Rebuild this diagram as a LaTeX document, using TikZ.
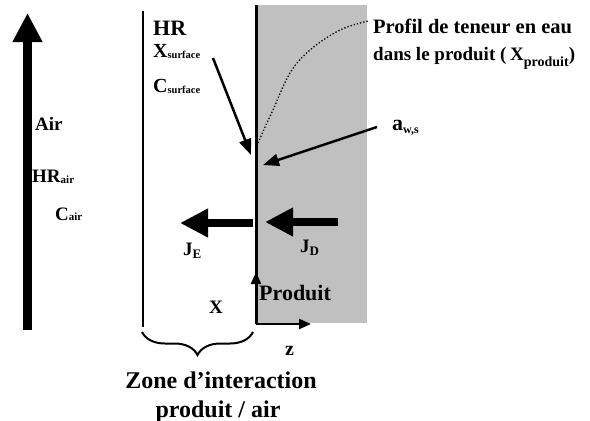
\documentclass[tikz,border=0pt]{standalone}
\usepackage{fontspec}
\setmainfont{Liberation Serif}
\usetikzlibrary{arrows.meta,decorations.pathreplacing}
\newcommand{\fsz}[1]{\fontsize{#1}{#1}\selectfont}
\newcommand{\lsub}[3]{\raisebox{-#2pt}{\fsz{#1}#3}}
\definecolor{prodgray}{RGB}{192,192,192}
\begin{document}
\begin{tikzpicture}[x=1pt,y=-1pt,
  lbl/.style={inner sep=0pt,anchor=base west,font=\bfseries},
  clbl/.style={inner sep=0pt,anchor=base,font=\bfseries},
  bigarrow/.style={line width=8.5pt,-{Triangle[width=28pt,length=29pt]}},
  fluxarrow/.style={line width=8pt,-{Triangle[width=27pt,length=28pt]}},
  thinarrow/.style={line width=2.5pt,-{Triangle[width=12pt,length=16pt]}},
  axisarrow/.style={line width=2.5pt,-{Triangle[width=10pt,length=12pt]}}]
\useasboundingbox (0,0) rectangle (590,421);
% product block
\fill[prodgray] (257,5) rectangle (367,323);
% big air arrow
\coordinate (airbot) at (27.5,330);
\coordinate (airtop) at (27.5,13);
\draw[bigarrow] (airbot) -- (airtop);
% thin boundary line
\coordinate (bt) at (143,11);
\coordinate (bb) at (143,327);
\draw[line width=2.5pt] (bt) -- (bb);
% interface line
\coordinate (it) at (256,5);
\coordinate (o) at (256,324);
\draw[line width=3pt] (it) -- (o);
% axes
\coordinate (zaxis) at (311,324);
\coordinate (yaxis) at (256,272);
\draw[axisarrow] (o) -- (zaxis);
\draw[axisarrow] (o) -- (yaxis);
% flux arrows
\coordinate (je1) at (253,223);
\coordinate (je2) at (180,223);
\draw[fluxarrow] (je1) -- (je2);
\coordinate (jd1) at (338,222);
\coordinate (jd2) at (265,222);
\draw[fluxarrow] (jd1) -- (jd2);
% diagonal arrows
\coordinate (d1) at (213,58);
\coordinate (d2) at (251,155);
\draw[thinarrow] (d1) -- (d2);
\coordinate (a1) at (377,127);
\coordinate (a2) at (263,165);
\draw[thinarrow] (a1) -- (a2);
% profile curve
\draw[dotted,line width=1.3pt] plot[smooth,tension=0.6] coordinates {(258,143) (266,125) (273,110) (290,73) (310,50) (340,30) (368,21)};
% brace
\coordinate (br1) at (142,332);
\coordinate (br2) at (253,332);
\draw[line width=2pt,decorate,decoration={brace,mirror,amplitude=23pt}] (br1) -- (br2);
% labels
\node[lbl] (hr) at (153,35) {\fsz{22}HR};
\node[lbl] (xs) at (153,57) {\fsz{20}X\lsub{10.5}{1}{surface}};
\node[lbl] (cs) at (153,92) {\fsz{20}C\lsub{10.5}{1}{surface}};
\node[lbl] (air) at (35,130) {\fsz{19}Air};
\node[lbl] (hrair) at (32,182) {\fsz{19}HR\lsub{11}{1.5}{air}};
\node[lbl] (cair) at (55,220) {\fsz{19}C\lsub{11}{0.5}{air}};
\node[lbl] (je) at (183,255) {\fsz{19}J\lsub{13}{3}{E}};
\node[lbl] (jd) at (300,252) {\fsz{19}J\lsub{13}{3}{D}};
\node[lbl] (prod) at (259,300) {\fsz{22}Produit};
\node[lbl] (xx) at (209,313) {\fsz{19}X};
\node[lbl] (zz) at (285,355) {\fsz{20}z};
\node[lbl] (aws) at (392,130) {\fsz{22}a\lsub{12}{3}{w,s}};
\node[lbl] (prof1) at (373,33) {\fsz{20.5}Profil de teneur en eau};
\node[lbl] (prof2) at (373,60) {\fsz{19}dans le produit (\kern-1pt{} X\lsub{14}{6}{produit})};
\node[clbl] (zone) at (221,388) {\fsz{24}Zone d’interaction};
\node[clbl] (pa) at (218,417) {\fsz{24}produit / air};
\end{tikzpicture}
\end{document}
